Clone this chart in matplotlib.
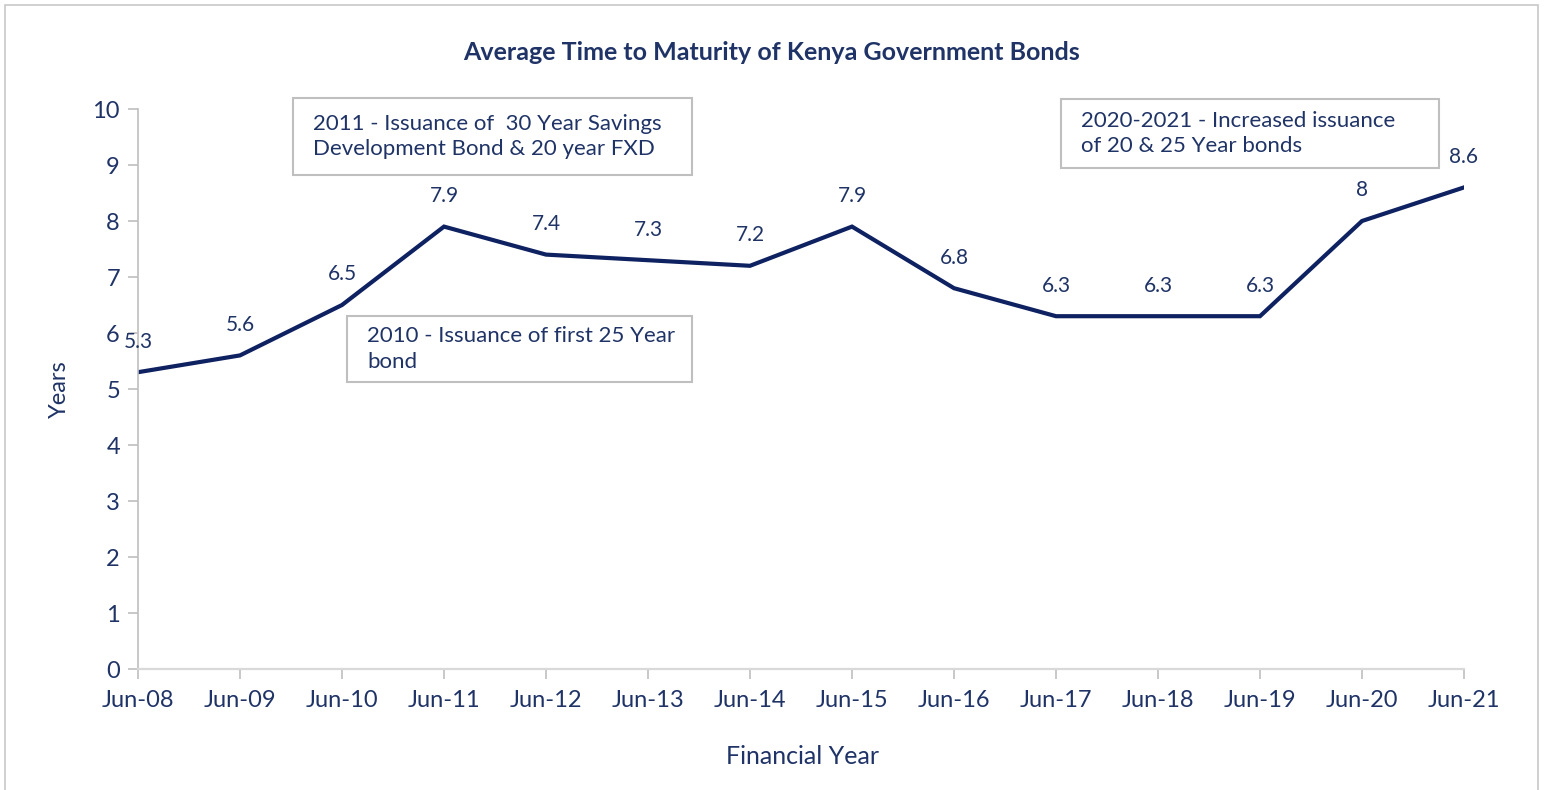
import matplotlib
matplotlib.use("Agg")
import matplotlib.pyplot as plt
from matplotlib.patches import Rectangle

plt.rcParams['font.family'] = ['Lato', 'DejaVu Sans']

years = ['Jun-08', 'Jun-09', 'Jun-10', 'Jun-11', 'Jun-12', 'Jun-13', 'Jun-14',
         'Jun-15', 'Jun-16', 'Jun-17', 'Jun-18', 'Jun-19', 'Jun-20', 'Jun-21']
maturity = [5.3, 5.6, 6.5, 7.9, 7.4, 7.3, 7.2, 7.9, 6.8, 6.3, 6.3, 6.3, 8.0, 8.6]
value_labels = ['5.3', '5.6', '6.5', '7.9', '7.4', '7.3', '7.2', '7.9', '6.8',
                '6.3', '6.3', '6.3', '8', '8.6']
notes = ['2011 - Issuance of  30 Year Savings\nDevelopment Bond & 20 year FXD',
         '2010 - Issuance of first 25 Year\nbond',
         '2020-2021 - Increased issuance\nof 20 & 25 Year bonds']

navy = '#0E2160'
text_c = '#1F3366'
grey = '#BFBFBF'

W, H = 1544, 790
fig = plt.figure(figsize=(W / 100, H / 100), dpi=100)
ax = fig.add_axes([138 / W, 1 - 669 / H, (1464 - 138) / W, (669 - 109) / H])

x = list(range(len(years)))
ax.plot(x, maturity, color=navy, linewidth=3.0, solid_joinstyle='miter')
for xi, v, lab in zip(x, maturity, value_labels):
    ax.annotate(lab, (xi, v), xytext=(0, 22), textcoords='offset points',
                ha='center', va='center', fontsize=15, color=text_c)

ax.set_xlim(0, len(years) - 1)
ax.set_ylim(0, 10)
ax.set_xticks(x)
ax.set_xticklabels(years)
ax.set_yticks(range(0, 11))
ax.tick_params(axis='both', colors=grey, labelcolor=text_c, labelsize=17, length=7, width=1.2)
ax.tick_params(axis='x', pad=8)
ax.tick_params(axis='y', pad=6)
for s in ['top', 'right']:
    ax.spines[s].set_visible(False)
ax.spines['left'].set_color(grey)
ax.spines['bottom'].set_color('#D9D9D9')
ax.spines['left'].set_linewidth(1.2)
ax.spines['bottom'].set_linewidth(1.6)
ax.set_ylabel('Years', fontsize=17, color=text_c, labelpad=16)
fig.text(803 / W, 1 - 756 / H, 'Financial Year', fontsize=18, color=text_c, ha='center', va='center')
fig.text(772 / W, 1 - 52 / H, 'Average Time to Maturity of Kenya Government Bonds',
         fontsize=18, fontweight='bold', color=text_c, ha='center', va='center')

# figure border
fig.patches.append(Rectangle((5 / W, -0.1), (1538 - 5) / W, 1.1 - 5 / H, transform=fig.transFigure,
                             fill=False, edgecolor='#C8C8C8', linewidth=1.2))

# note boxes (pixel coords: left, top, right, bottom)
boxes = [(293, 98, 692, 175), (347, 316, 692, 382), (1061, 99, 1439, 168)]
for (l, t, r, b), note in zip(boxes, notes):
    fig.patches.append(Rectangle((l / W, 1 - b / H), (r - l) / W, (b - t) / H,
                                 transform=fig.transFigure, facecolor='white',
                                 edgecolor=grey, linewidth=1.5, zorder=5))
    fig.text((l + 20) / W, 1 - (t + b) / 2 / H, note, fontsize=16, color=text_c,
             ha='left', va='center', linespacing=1.35, zorder=6)

fig.savefig('out.png', dpi=100)
